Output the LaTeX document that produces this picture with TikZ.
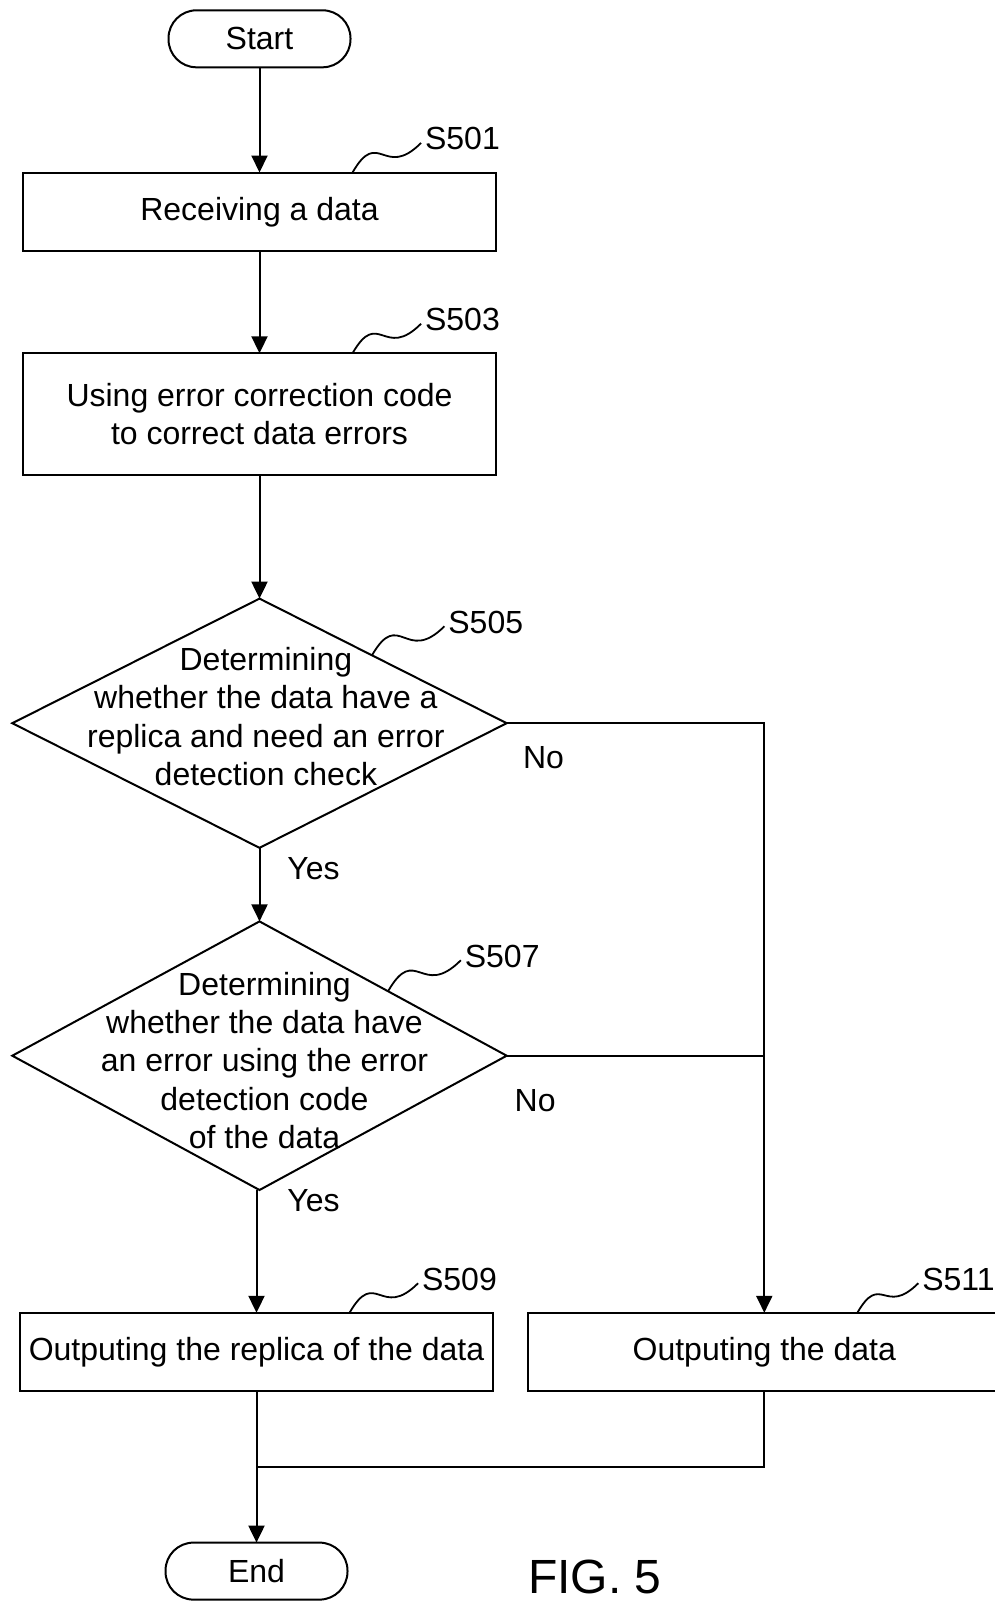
\documentclass[tikz,border=0pt]{standalone}
\usepackage{fontspec}
\setmainfont{Liberation Sans}
\usetikzlibrary{positioning,arrows.meta,shapes.geometric,calc}

\begin{document}
\begin{tikzpicture}[
    font=\fontsize{16pt}{19.2pt}\selectfont,
    line width=1pt,
    term/.style={draw, rounded corners=14pt, minimum width=91pt, minimum height=28.5pt, outer sep=0pt},
    proc/.style={draw, align=center, minimum width=236.5pt, inner sep=2pt, outer sep=0pt},
    decision/.style={draw, diamond, minimum width=247.2pt, inner sep=0pt, outer sep=0pt},
    dtext/.style={align=center, inner sep=0pt},
    tag/.style={inner sep=0pt, anchor=west},
    lbl/.style={inner sep=0pt},
    wave/.style={line width=0.9pt, out=60, in=225, looseness=1.8},
    arr/.style={-{Triangle[length=8.5pt, width=8pt]}}]
  \useasboundingbox (0,0) rectangle (497.5pt,-801pt);
  % main column
  \node[term] (start) at (129.75pt,-19.4pt) {Start};
  \node[proc, below=52.6pt of start, minimum height=39.4pt] (s501) {Receiving a data};
  \node[proc, below=51pt of s501, minimum height=60.75pt] (s503) {Using error correction code\\to correct data errors};
  \node[decision, below=61.9pt of s503, minimum height=124.6pt] (d1) {};
  \node[dtext] (d1txt) at ([shift={(3.2pt,3.3pt)}]d1.center) {Determining\\whether the data have a\\replica and need an error\\detection check};
  \node[decision, below=36.8pt of d1, minimum height=134.3pt] (d2) {};
  \node[dtext] (d2txt) at ([shift={(2.5pt,-2.4pt)}]d2.center) {Determining\\whether the data have\\an error using the error\\detection code\\of the data};
  \node[proc, below=61.4pt of d2, xshift=-1.5pt, minimum height=39.3pt] (s509) {Outputing the replica of the data};
  \node[proc, right=17.4pt of s509, minimum height=39.3pt] (s511) {Outputing the data};
  \node[term, below=75.6pt of s509] (end) {End};
  \node[inner sep=0pt, anchor=west, font=\fontsize{24pt}{28pt}\selectfont] (fig) at (263.5pt,-788.5pt) {FIG. 5};
  % connectors
  \draw[arr] (start) -- (s501);
  \draw[arr] (s501) -- (s503);
  \draw[arr] (s503) -- (d1);
  \draw[arr] (d1) -- (d2);
  \draw[arr] (s509.north |- d2.south) -- (s509.north);
  \draw[arr] (d1.east) -| (s511.north);
  \draw (d2.east) -- (d2.east -| s511.north);
  \draw[arr] (s509) -- (end);
  \coordinate (merge) at ($(s509.south)!0.5!(end.north)$);
  \draw (s511.south) |- (merge);
  \node[lbl] (no1) at ([shift={(18.4pt,-17.4pt)}]d1.east) {No};
  \node[lbl] (yes1) at ([shift={(27pt,-10.5pt)}]d1.south) {Yes};
  \node[lbl] (no2) at ([shift={(14.2pt,-22.7pt)}]d2.east) {No};
  \node[lbl] (yes2) at ([shift={(27pt,-5.5pt)}]d2.south) {Yes};
  % step tags
  \coordinate (c501) at ([xshift=46.5pt]s501.north);
  \coordinate (c503) at ([xshift=46.5pt]s503.north);
  \coordinate (c505) at ($(d1.north)!0.455!(d1.east)$);
  \coordinate (c507) at ($(d2.north)!0.52!(d2.east)$);
  \coordinate (c509) at ([xshift=46.5pt]s509.north);
  \coordinate (c511) at ([xshift=46.5pt]s511.north);
  \node[tag] (t501) at ([shift={(35.8pt,16.8pt)}]c501) {S501};
  \node[tag] (t503) at ([shift={(35.8pt,16.8pt)}]c503) {S503};
  \node[tag] (t505) at ([shift={(37.7pt,16.5pt)}]c505) {S505};
  \node[tag] (t507) at ([shift={(37.9pt,17.5pt)}]c507) {S507};
  \node[tag] (t509) at ([shift={(35.8pt,16.8pt)}]c509) {S509};
  \node[tag] (t511) at ([shift={(32pt,16.8pt)}]c511) {S511};
  \draw[wave] (c501) to ([shift={(-1.5pt,-2pt)}]t501.west);
  \draw[wave] (c503) to ([shift={(-1.5pt,-2pt)}]t503.west);
  \draw[wave] (c505) to ([shift={(-1.5pt,-2pt)}]t505.west);
  \draw[wave] (c507) to ([shift={(-1.5pt,-2pt)}]t507.west);
  \draw[wave] (c509) to ([shift={(-1.5pt,-2pt)}]t509.west);
  \draw[wave] (c511) to ([shift={(-1.5pt,-2pt)}]t511.west);
\end{tikzpicture}
\end{document}
